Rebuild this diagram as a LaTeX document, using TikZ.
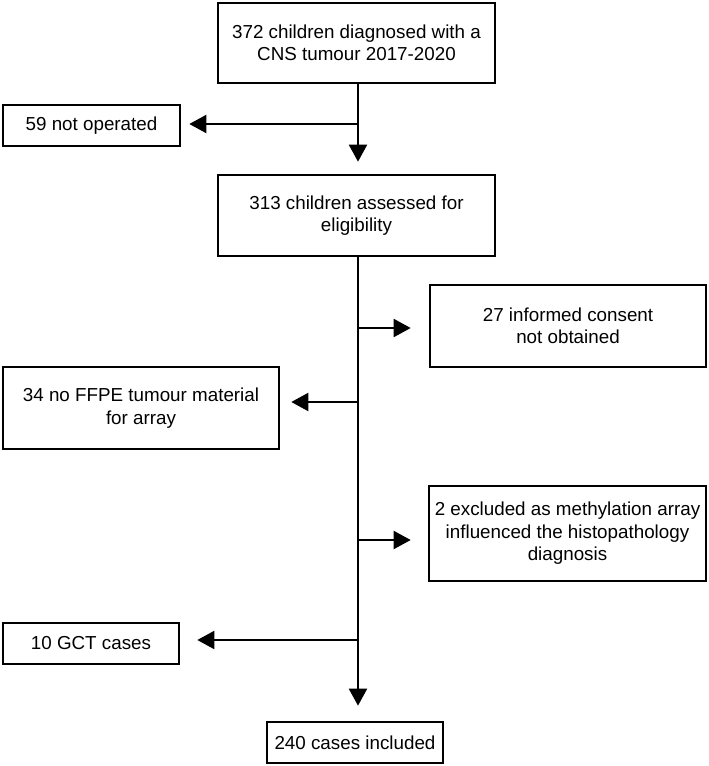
\documentclass[tikz,border=0pt]{standalone}
\usepackage{fontspec}
\setmainfont{Liberation Sans}
\usetikzlibrary{arrows.meta}
\begin{document}
\begin{tikzpicture}[x=1pt,y=-1pt,
  box/.style={draw=black, line width=2.6pt, fill=white, align=center, inner sep=0pt,
    font=\fontsize{18.8}{22.5}\selectfont},
  conn/.style={line width=2pt, -{Triangle[length=17pt,width=18pt]}},
  trunk/.style={line width=2pt}]
\useasboundingbox (0,0) rectangle (709,766);
\node[box, minimum width=277pt, minimum height=80pt] (b1) at (356.5,43) {372 children diagnosed with a\\CNS tumour 2017-2020};
\node[box, minimum width=177pt, minimum height=41pt] (b59) at (91.5,125.5) {59 not operated};
\node[box, minimum width=277pt, minimum height=81pt] (b2) at (356.5,215.5) {313 children assessed for\\eligibility};
\node[box, minimum width=276pt, minimum height=82pt] (b27) at (568,326) {27 informed consent\\not obtained};
\node[box, minimum width=276pt, minimum height=82pt] (b34) at (141,408) {34 no FFPE tumour material\\for array};
\node[box, minimum width=277pt, minimum height=95pt] (bex) at (567.5,533.5) {2 excluded as methylation array\\influenced the histopathology\\diagnosis};
\node[box, minimum width=176pt, minimum height=41pt] (b10) at (91,643.5) {10 GCT cases};
\node[box, minimum width=176pt, minimum height=41pt] (b240) at (355,742.5) {240 cases included};

\coordinate (t1) at (358,83);
\coordinate (j59) at (358,124);
\coordinate (t2) at (358,256);
\coordinate (j27) at (358,328);
\coordinate (j34) at (358,402);
\coordinate (jex) at (358,540);
\coordinate (j10) at (358,640);

\draw[conn, shorten >=12pt] (t1) -- (t1 |- b2.north);
\draw[conn, shorten >=8pt] (j59) -- (j59 -| b59.east);
\draw[conn, shorten >=15pt] (t2) -- (t2 |- b240.north);
\draw[conn, shorten >=18pt] (j27) -- (j27 -| b27.west);
\draw[conn, shorten >=11pt] (j34) -- (j34 -| b34.east);
\draw[conn, shorten >=17pt] (jex) -- (jex -| bex.west);
\draw[conn, shorten >=17pt] (j10) -- (j10 -| b10.east);
\end{tikzpicture}
\end{document}
